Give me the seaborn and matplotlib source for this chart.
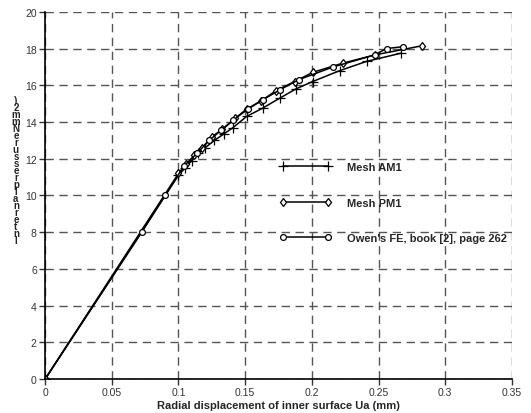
import matplotlib
matplotlib.use("Agg")
import matplotlib.pyplot as plt
import seaborn as sns
import pandas as pd

# datos
am1_x = [0, 0.1, 0.105, 0.11, 0.115, 0.12, 0.127, 0.134, 0.141, 0.151, 0.163, 0.176, 0.188, 0.2005, 0.221, 0.241, 0.267]
am1_y = [0, 11.1, 11.5, 11.9, 12.3, 12.6, 13.0, 13.35, 13.7, 14.3, 14.75, 15.3, 15.8, 16.2, 16.8, 17.3, 17.75]

pm1_x = [0, 0.1, 0.106, 0.112, 0.118, 0.125, 0.133, 0.1425, 0.151, 0.162, 0.173, 0.187, 0.2005, 0.223, 0.247, 0.2825]
pm1_y = [0, 11.2, 11.7, 12.2, 12.6, 13.2, 13.6, 14.2, 14.7, 15.15, 15.7, 16.2, 16.7, 17.2, 17.65, 18.15]

owen_x = [0, 0.0725, 0.09, 0.104, 0.114, 0.123, 0.132, 0.141, 0.152, 0.163, 0.176, 0.19, 0.216, 0.247, 0.256, 0.268]
owen_y = [0, 8, 10, 11.6, 12.3, 13.0, 13.55, 14.1, 14.7, 15.2, 15.75, 16.3, 17.0, 17.65, 18.0, 18.1]

etiquetas = ["Mesh AM1", "Mesh PM1", "Owen's FE, book [2], page 262"]
x_label = "Radial displacement of inner surface Ua (mm)"
y_label = "Internal pressure (N/mm2)"

sns.set_theme(style="ticks")
plt.rcParams['font.family'] = ['Liberation Sans', 'DejaVu Sans']

fig = plt.figure(figsize=(5.31, 4.14), dpi=100)
ax = fig.add_axes([0.085, 0.082, 0.879, 0.887])

series = [(am1_x, am1_y, '+', 7, 'black'),
          (pm1_x, pm1_y, 'd', 4.5, 'white'),
          (owen_x, owen_y, 'o', 4.2, 'white')]
for (xs, ys, mk, ms, fc), lab in zip(series, etiquetas):
    df = pd.DataFrame({'x': xs, 'y': ys})
    sns.lineplot(data=df, x='x', y='y', ax=ax, sort=False, estimator=None,
                 color='black', linewidth=1.1, marker=mk, markersize=ms,
                 markerfacecolor=fc, markeredgecolor='black', markeredgewidth=0.9,
                 label=lab)

ax.set_xlim(0, 0.35)
ax.set_ylim(0, 20)
ax.set_xticks([0, 0.05, 0.1, 0.15, 0.2, 0.25, 0.3, 0.35])
ax.set_xticklabels(['0', '0.05', '0.1', '0.15', '0.2', '0.25', '0.3', '0.35'])
ax.set_yticks(range(0, 21, 2))
ax.grid(True, color='#555555', linestyle=(0, (6, 4)), linewidth=1.0)
for s in ['top', 'right']:
    ax.spines[s].set_visible(False)
for s in ['left', 'bottom']:
    ax.spines[s].set_color('black')
    ax.spines[s].set_linewidth(1.2)
ax.tick_params(labelsize=7.5, colors='#333333', length=4, width=1, pad=2)

ax.set_xlabel(x_label, fontsize=8, fontweight='bold', labelpad=2)
ax.set_ylabel('')

# etiqueta del eje y, caracteres apilados
apilado = "\n".join(reversed(y_label.replace(" ", "").replace("(", "").replace("/", "")))
fig.text(0.03, 0.587, apilado, fontsize=7, fontweight='bold', ha='center', va='center',
         linespacing=0.62)

leg = ax.legend(loc='upper left', bbox_to_anchor=(280 / 531, 1 - 163 / 414),
                bbox_transform=fig.transFigure, frameon=False, numpoints=2,
                handlelength=4.6, handletextpad=1.4, labelspacing=2.3,
                borderpad=0, borderaxespad=0, prop={'weight': 'bold', 'size': 8})

plt.savefig("out.png", dpi=100)
